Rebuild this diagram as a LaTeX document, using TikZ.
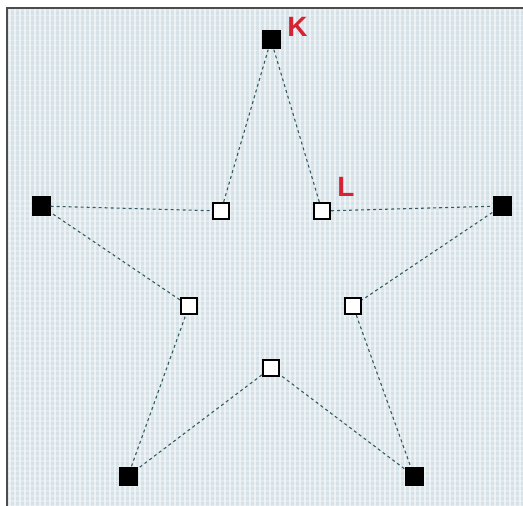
\documentclass[tikz,border=0pt]{standalone}
\usepackage{fontspec}
\setmainfont{Liberation Sans}
\definecolor{bgc}{RGB}{214,226,231}
\definecolor{edgec}{RGB}{52,92,98}
\definecolor{labc}{RGB}{214,34,50}
\begin{document}
\begin{tikzpicture}[x=1bp,y=-1bp,
  outer/.style={draw=none,fill=black,minimum size=19bp,inner sep=0pt},
  inner/.style={draw=black,line width=1.8bp,fill=white,minimum size=16.5bp,inner sep=0pt},
  edge/.style={draw=edgec,line width=1.1bp,dash pattern=on 3bp off 3bp},
  lab/.style={text=labc,font=\bfseries\fontsize{28}{28}\selectfont,inner sep=0pt}]
\useasboundingbox (0,0) rectangle (523,506);
\fill[white] (0,0) rectangle (523,506);
\fill[bgc] (7,8) rectangle (523,506);
\foreach \i in {0,...,103} {
  \fill[white,opacity=0.55] (9+5*\i,8) rectangle (11+5*\i,506);
}
\foreach \j in {0,...,99} {
  \fill[white,opacity=0.25] (7,10+5*\j) rectangle (523,11.5+5*\j);
}
\draw[gray!60!black,line width=1.6bp] (7,506) -- (7,8) -- (523,8);
\node[outer] (k) at (271,40) {};
\node[outer] (r) at (502,206) {};
\node[outer] (br) at (414,476) {};
\node[outer] (bl) at (128,476) {};
\node[outer] (l) at (41,206) {};
\node[inner] (il) at (322,211) {};
\node[inner] (ir) at (353,306) {};
\node[inner] (ib) at (271,368) {};
\node[inner] (ibl) at (189,306) {};
\node[inner] (itl) at (221,211) {};
\path[edge] (k) -- (il);
\path[edge] (il) -- (r);
\path[edge] (r) -- (ir);
\path[edge] (ir) -- (br);
\path[edge] (br) -- (ib);
\path[edge] (ib) -- (bl);
\path[edge] (bl) -- (ibl);
\path[edge] (ibl) -- (l);
\path[edge] (l) -- (itl);
\path[edge] (itl) -- (k);
\node[lab] (kl) at (297.5,27) {K};
\node[lab] (ll) at (346,187) {L};
\end{tikzpicture}
\end{document}
